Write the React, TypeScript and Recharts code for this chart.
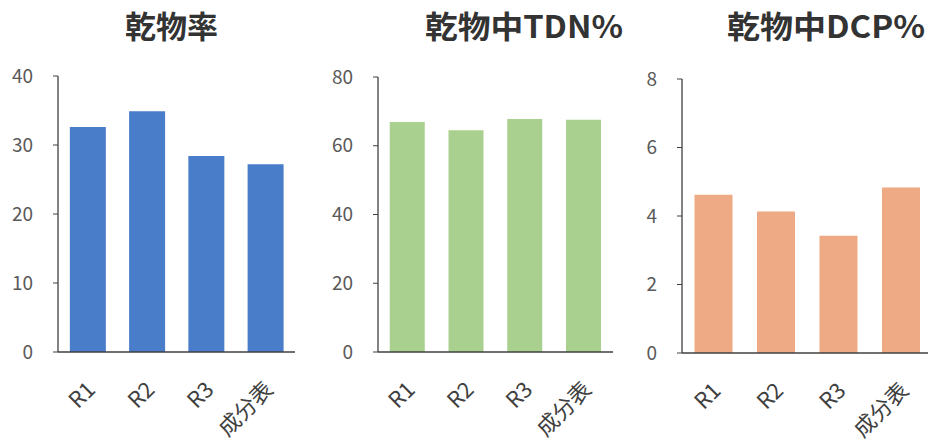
import React from "react";
import { BarChart, Bar, XAxis, YAxis } from "recharts";

const categories = ["R1", "R2", "R3", "成分表"];
const dryMatterRate = [32.6, 34.9, 28.4, 27.2];
const tdnPercent = [66.9, 64.5, 67.8, 67.6];
const dcpPercent = [4.62, 4.13, 3.42, 4.83];

const dryTicks = [0, 10, 20, 30, 40];
const tdnTicks = [0, 20, 40, 60, 80];
const dcpTicks = [0, 2, 4, 6, 8];

const titles = ["乾物率", "乾物中TDN%", "乾物中DCP%"];

const FONT = "'Noto Sans CJK JP', 'Noto Sans', sans-serif";
const AXIS = "#404040";

const toRows = (values: number[]) =>
  categories.map((name, i) => ({ name, value: values[i] }));

const XTick = (props: any) => {
  const { x, y, payload } = props;
  return (
    <g transform={`translate(${x + 9},${y + 39})`}>
      <text
        textAnchor="end"
        transform="rotate(-45)"
        fill={AXIS}
        fontSize={22}
        fontFamily={FONT}
      >
        {payload.value}
      </text>
    </g>
  );
};

type PanelProps = {
  left: number;
  width: number;
  values: number[];
  ticks: number[];
  color: string;
  yWidth: number;
  top: number;
  xHeight: number;
  right: number;
};

const Panel = ({ left, width, values, ticks, color, yWidth, top, xHeight, right }: PanelProps) => (
  <div style={{ position: "absolute", left, top: 0 }}>
    <BarChart
      width={width}
      height={439}
      data={toRows(values)}
      margin={{ top, right, left: 0, bottom: 0 }}
      barCategoryGap="20%"
    >
      <XAxis
        dataKey="name"
        height={xHeight}
        tickLine={false}
        tickSize={0}
        tickMargin={0}
        interval={0}
        axisLine={{ stroke: AXIS, strokeWidth: 1.3 }}
        tick={<XTick />}
      />
      <YAxis
        width={yWidth}
        domain={[ticks[0], ticks[ticks.length - 1]]}
        ticks={ticks}
        interval={0}
        tickSize={5}
        tickMargin={20}
        axisLine={{ stroke: AXIS, strokeWidth: 1.3 }}
        tickLine={{ stroke: AXIS }}
        tick={{ fill: "#595959", fontSize: 19, fontFamily: FONT }}
      />
      <Bar dataKey="value" fill={color} isAnimationActive={false} />
    </BarChart>
  </div>
);

export default function App() {
  return (
    <div
      style={{
        position: "fixed",
        left: 0,
        top: 0,
        width: 928,
        height: 439,
        overflow: "hidden",
        background: "#ffffff",
        fontFamily: FONT,
      }}
    >
      <Panel left={0} width={310} values={dryMatterRate} ticks={dryTicks} color="#4a7dc9"
        yWidth={58} top={76} xHeight={87} right={15} />
      <Panel left={310} width={310} values={tdnPercent} ticks={tdnTicks} color="#a9d08e"
        yWidth={68} top={77} xHeight={87} right={7} />
      <Panel left={620} width={315} values={dcpPercent} ticks={dcpTicks} color="#eeaa84"
        yWidth={62} top={79} xHeight={86} right={3} />
      <svg
        width={928}
        height={60}
        style={{ position: "absolute", left: 0, top: 0 }}
      >
        {titles.map((t, i) => (
          <text
            key={t}
            x={[125, 425, 727][i]}
            y={38}
            fontSize={31}
            fontWeight="bold"
            fill="#333333"
            fontFamily={FONT}
            textLength={[93, 198, 198][i]}
            lengthAdjust="spacingAndGlyphs"
          >
            {t}
          </text>
        ))}
      </svg>
    </div>
  );
}
